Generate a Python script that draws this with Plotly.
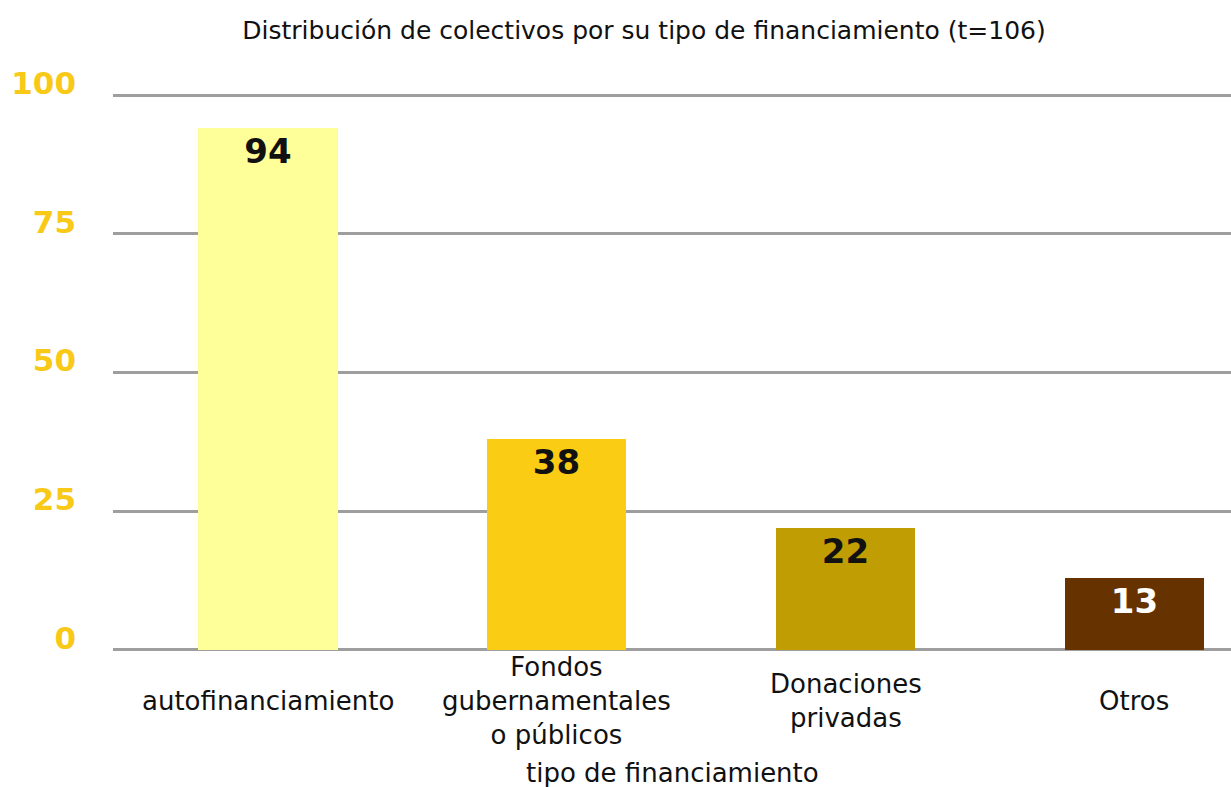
import plotly.graph_objects as go

categories = ["autofinanciamiento", "Fondos gubernamentales o públicos", "Donaciones privadas", "Otros"]
tick_labels = ["autofinanciamiento", "Fondos<br>gubernamentales<br>o públicos", "Donaciones<br>privadas", "Otros"]
values = [94, 38, 22, 13]
bar_colors = ["#FFFF99", "#FACC14", "#C19D04", "#663300"]
label_colors = ["#111111", "#111111", "#111111", "#FFFFFF"]
y_ticks = [0, 25, 50, 75, 100]

FONT = "DejaVu Sans"

fig = go.Figure(
    go.Bar(
        x=categories,
        y=values,
        marker=dict(color=bar_colors, line=dict(width=0)),
        width=0.484,
        text=[str(v) for v in values],
        textposition="inside",
        insidetextanchor="end",
        textfont=dict(family=FONT, size=34, color=label_colors, weight="bold"),
        textangle=0,
        showlegend=False,
    )
)

annotations = [
    dict(x=c, y=-0.088, xref="x", yref="paper", text=t, showarrow=False,
         xanchor="center", yanchor="middle",
         font=dict(family=FONT, size=26, color="#111111"))
    for c, t in zip(categories, tick_labels)
]
annotations.append(
    dict(x=0.5, y=-0.216, xref="paper", yref="paper", text="tipo de financiamiento",
         showarrow=False, xanchor="center", yanchor="middle",
         font=dict(family=FONT, size=26, color="#111111"))
)

fig.update_layout(
    width=1231,
    height=787,
    margin=dict(l=113, r=0, t=93, b=135),
    paper_bgcolor="white",
    plot_bgcolor="white",
    title=dict(
        text="Distribución de colectivos por su tipo de financiamiento (t=106)",
        x=644 / 1231, xref="container", xanchor="center",
        y=1 - 30 / 787, yref="container", yanchor="middle",
        font=dict(family=FONT, size=25, color="#111111"),
    ),
    xaxis=dict(
        type="category",
        range=[-0.535, 3.334],
        showticklabels=False,
        showgrid=False,
        zeroline=False,
        showline=False,
        ticks="",
    ),
    yaxis=dict(
        range=[-0.4, 100.4],
        tickvals=y_ticks,
        showgrid=True,
        gridcolor="#9E9E9E",
        gridwidth=2.5,
        zeroline=False,
        showline=False,
        ticks="",
        ticklabelstandoff=36,
        ticklabelshift=-12,
        tickfont=dict(family=FONT, size=31, color="#F9C918", weight="bold"),
    ),
    annotations=annotations,
    bargap=0,
)

fig.write_html(
    "out.html",
    config={"displayModeBar": False},
    post_script="document.body.style.margin='0';document.body.style.overflow='hidden';",
)
